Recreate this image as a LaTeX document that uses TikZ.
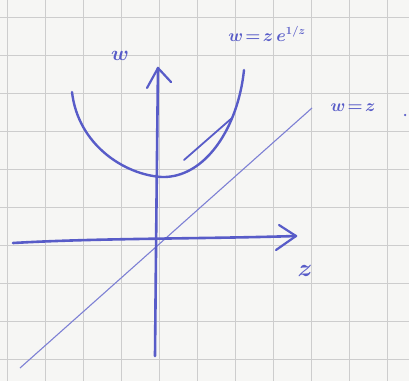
\documentclass[tikz,border=0pt]{standalone}
\usetikzlibrary{arrows.meta}
\definecolor{paper}{RGB}{246,246,244}
\definecolor{gridc}{RGB}{205,205,205}
\definecolor{ink}{RGB}{88,92,200}
\definecolor{thinink}{RGB}{125,128,212}
\tikzset{
  axisline/.style={ink, line width=2.6pt, line cap=round, line join=round},
  tipline/.style={ink, line width=2.2pt, line cap=round, line join=round},
  curveline/.style={ink, line width=2.4pt, line cap=round},
  diagline/.style={thinink, line width=1.1pt},
  hand/.style={ink, inner sep=0pt},
}
\begin{document}
\begin{tikzpicture}[x=1pt,y=-1pt]
\fill[paper] (0,0) rectangle (409,381);
\useasboundingbox (0,0) rectangle (409,381);
% grid
\foreach \gx in {7,45,83,121,159,197,235,273,311,349,387}
  \draw[gridc, line width=0.6pt] (\gx,0) -- (\gx,381);
\foreach \gy in {17,55,93,131,169,207,245,283,321,359}
  \draw[gridc, line width=0.6pt] (0,\gy) -- (409,\gy);
% coordinates
\coordinate (hx0) at (13,243);
\coordinate (hx1) at (296,236);
\coordinate (vy0) at (155,356);
\coordinate (vy1) at (158,68);
\coordinate (d0) at (20,368);
\coordinate (d1) at (312,108);
\coordinate (a0) at (184,160);
\coordinate (a1) at (232,118);
% diagonal w=z
\draw[diagline] (d0) -- (d1);
% axes
\draw[axisline] (hx0) .. controls (100,238) and (200,239) .. (hx1);
\draw[tipline] (279,225) -- (hx1) -- (276,250);
\draw[axisline] (vy0) .. controls (156,250) and (157,150) .. (vy1);
\draw[tipline] (147,88) -- (vy1) -- (171,82);
% curve
\draw[curveline] (72,92) .. controls (78,145) and (125,175) .. (162,177)
  .. controls (205,178) and (238,128) .. (244,70);
% asymptote
\draw[axisline, line width=1.8pt] (a0) -- (a1);
% labels
\node[hand, font=\fontsize{22}{22}\selectfont\boldmath] (wlab) at (120,56) {$w$};
\node[hand, font=\fontsize{28}{28}\selectfont\boldmath] (zlab) at (305,271) {$z$};
\node[hand, font=\fontsize{19}{19}\selectfont\boldmath] (diaglab) at (353,108) {$w\!=\!z$};
\node[hand, font=\fontsize{16}{16}\selectfont\boldmath] (curvelab) at (267,34) {$w\!=\!z\,e^{1/z}$};
\node[hand, circle, fill=ink, minimum size=2.5pt] (dot) at (405,115) {};
\end{tikzpicture}
\end{document}
